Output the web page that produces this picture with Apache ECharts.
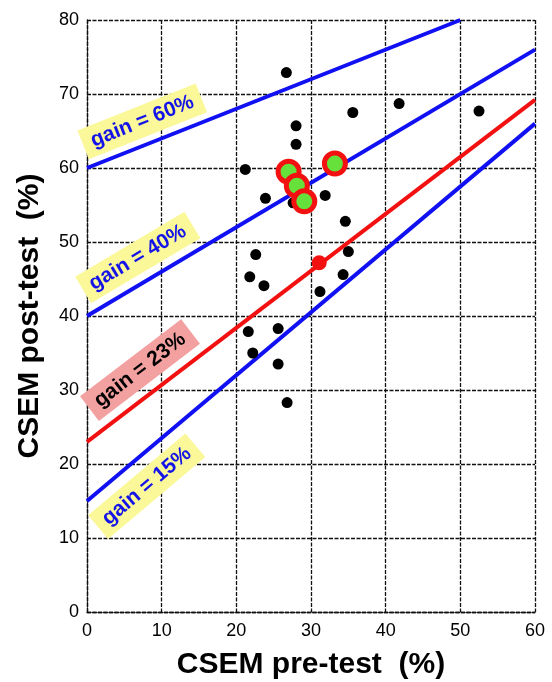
<!DOCTYPE html>
<html>
<head>
<meta charset="utf-8">
<script src="https://cdn.jsdelivr.net/npm/echarts@6/dist/echarts.min.js"></script>
<style>
  html, body { margin: 0; padding: 0; background: #ffffff; }
  #chart { width: 552px; height: 682px; }
</style>
</head>
<body>
<div id="chart"></div>
<script>
// Individual classes: pre-test vs post-test CSEM scores (%)
const classPre  = [26.7, 35.6, 41.8, 52.5, 28.0, 28.0, 31.9, 34.6, 35.0, 34.3, 31.2,
                   25.6, 21.2, 23.9, 22.6, 21.8, 23.7, 21.6, 22.2, 25.6, 26.8, 27.6];
const classPost = [72.9, 67.5, 68.7, 67.7, 65.7, 63.2, 56.3, 52.8, 48.7, 45.6, 43.3,
                   38.3, 59.8, 55.9, 48.3, 45.3, 44.1, 37.9, 35.0, 33.5, 28.3, 55.3];

// Highlighted classes
const highlightPre  = [27.0, 28.1, 29.1, 33.2];
const highlightPost = [59.5, 57.6, 55.5, 60.6];

// Overall average
const meanPre  = [31.1];
const meanPost = [47.2];

// Constant normalized-gain reference lines
const gains      = [0.60, 0.40, 0.23, 0.15];
const gainLabels = ['gain = 60%', 'gain = 40%', 'gain = 23%', 'gain = 15%'];
const labelPre   = [7.4, 6.8, 7.1, 8.0];
const labelPost  = [66.3, 47.9, 32.7, 17.0];

// Axis ticks
const xTicks = [0, 10, 20, 30, 40, 50, 60];
const yTicks = [0, 10, 20, 30, 40, 50, 60, 70, 80];

const X_MAX = 60, Y_MAX = 80;
const GRID = { left: 87, right: 17, top: 20, bottom: 70, outerBoundsMode: 'none' };
const W = 552, H = 682;
const gridW = W - GRID.left - GRID.right;
const gridH = H - GRID.top - GRID.bottom;

function zip(a, b) { return a.map((v, i) => [v, b[i]]); }

// post = pre + g * (100 - pre)
function gainLine(g) {
  const xEnd = Math.min(X_MAX, (Y_MAX - 100 * g) / (1 - g));
  return [[0, 100 * g], [xEnd, xEnd + g * (100 - xEnd)]];
}

function gainAngle(g) {
  const slopePx = (1 - g) * (gridH / Y_MAX) / (gridW / X_MAX);
  return Math.atan(slopePx) * 180 / Math.PI;
}

const FONT = 'Liberation Sans, Arial, sans-serif';
const lineColors  = ['#1010f2', '#1010f2', '#f21010', '#1010f2'];
const boxColors   = ['#fbf89a', '#fbf89a', '#f3a0a0', '#fbf89a'];
const textColors  = ['#1414e8', '#1414e8', '#000000', '#1414e8'];

const gridLine = { color: '#111111', width: 1.3, type: [4, 1.5] };

const series = [];

// Gain label boxes
gains.forEach((g, i) => {
  series.push({
    type: 'scatter',
    symbolSize: 0,
    z: 1,
    silent: true,
    itemStyle: { opacity: 1 },
    data: [[labelPre[i], labelPost[i]]],
    label: {
      show: true,
      position: 'inside',
      formatter: gainLabels[i],
      rotate: gainAngle(g),
      fontFamily: FONT,
      fontWeight: 'bold',
      fontSize: 21,
      color: textColors[i],
      backgroundColor: boxColors[i],
      padding: [5, 9],
      align: 'center',
      verticalAlign: 'middle'
    }
  });
});

// Gain lines
gains.forEach((g, i) => {
  series.push({
    type: 'line',
    z: 2,
    silent: true,
    symbol: 'none',
    data: gainLine(g),
    lineStyle: { color: lineColors[i], width: 4 }
  });
});

series.push({
  type: 'scatter',
  z: 3,
  symbol: 'circle',
  symbolSize: 11,
  itemStyle: { color: '#000000', opacity: 1 },
  data: zip(classPre, classPost)
});

series.push({
  type: 'scatter',
  z: 4,
  symbol: 'circle',
  symbolSize: 15,
  itemStyle: { color: '#f21010', opacity: 1 },
  data: zip(meanPre, meanPost)
});

series.push({
  type: 'scatter',
  z: 5,
  symbol: 'circle',
  symbolSize: 21,
  itemStyle: { color: '#66e03a', borderColor: '#f21010', borderWidth: 5, opacity: 1 },
  data: zip(highlightPre, highlightPost)
});

const chart = echarts.init(document.getElementById('chart'), null, { renderer: 'canvas' });
chart.setOption({
  backgroundColor: '#ffffff',
  animation: false,
  grid: GRID,
  xAxis: {
    type: 'value',
    min: xTicks[0],
    max: xTicks[xTicks.length - 1],
    interval: xTicks[1] - xTicks[0],
    name: 'CSEM pre-test  (%)',
    nameLocation: 'middle',
    nameGap: 38,
    nameTextStyle: { fontFamily: FONT, fontWeight: 'bold', fontSize: 30, color: '#000' },
    axisLine: { show: true, lineStyle: gridLine },
    axisTick: { show: false },
    splitLine: { show: true, lineStyle: gridLine },
    axisLabel: { fontFamily: FONT, fontSize: 18, color: '#000', margin: 10 }
  },
  yAxis: {
    type: 'value',
    min: yTicks[0],
    max: yTicks[yTicks.length - 1],
    interval: yTicks[1] - yTicks[0],
    name: 'CSEM post-test  (%)',
    nameLocation: 'middle',
    nameGap: 42,
    nameTextStyle: { fontFamily: FONT, fontWeight: 'bold', fontSize: 30, color: '#000' },
    axisLine: { show: true, lineStyle: gridLine },
    axisTick: { show: false },
    splitLine: { show: true, lineStyle: gridLine },
    axisLabel: { fontFamily: FONT, fontSize: 18, color: '#000', margin: 8 }
  },
  series: series
});
</script>
</body>
</html>
